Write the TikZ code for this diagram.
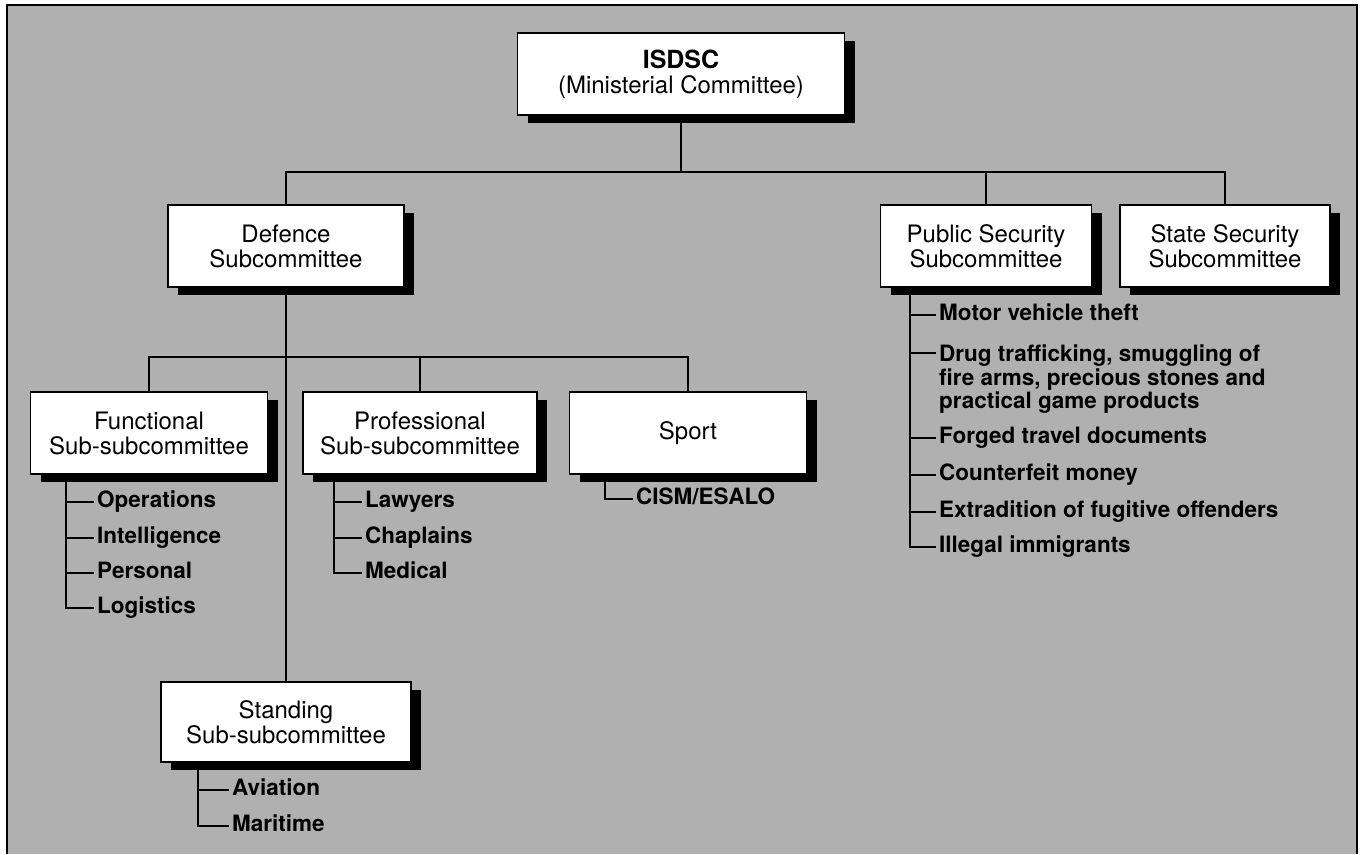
\documentclass[tikz,border=0pt]{standalone}
\usepackage{fontspec}
\setmainfont{TeX Gyre Heros}
\usetikzlibrary{shadows}
\definecolor{bggray}{gray}{0.69}
\tikzset{
  box/.style={draw=black, line width=1.8pt, fill=white, align=center, inner sep=0pt,
    font=\fontsize{24}{25}\selectfont,
    drop shadow={shadow xshift=10pt, shadow yshift=-8pt, fill=black, opacity=1}},
  itemtext/.style={anchor=west, inner sep=4pt, font=\fontsize{22.5}{23.5}\selectfont\bfseries},
  item/.style={itemtext, text height=16pt, text depth=5pt},
  link/.style={line width=2pt, line cap=rect},
}
\begin{document}
\begin{tikzpicture}[x=1pt,y=-1pt]
\useasboundingbox (0,0) rectangle (1364,854);
\fill[bggray] (7,5) rectangle (1357,854);
\draw[line width=1.6pt] (7,854) -- (7,5) -- (1357,5) -- (1357,854);

% main boxes
\node[box, minimum width=327pt, minimum height=82pt] (isdsc) at (681,74)
  {{\fontsize{25}{25}\selectfont\bfseries ISDSC}\\(Ministerial Committee)};
\node[box, minimum width=236pt, minimum height=82pt] (def) at (286,246)
  {Defence\\Subcommittee};
\node[box, minimum width=211pt, minimum height=82pt] (pub) at (986,246)
  {Public Security\\Subcommittee};
\node[box, minimum width=210pt, minimum height=82pt] (sta) at (1225,246)
  {State Security\\Subcommittee};
\node[box, minimum width=237pt, minimum height=82pt] (fun) at (149,433)
  {Functional\\Sub-subcommittee};
\node[box, minimum width=234pt, minimum height=82pt] (pro) at (420,433)
  {Professional\\Sub-subcommittee};
\node[box, minimum width=237pt, minimum height=82pt] (spo) at (688,433)
  {Sport};
\node[box, minimum width=250pt, minimum height=80pt] (sta2) at (286,722)
  {Standing\\Sub-subcommittee};

% top level connectors
\coordinate (bus1) at (681,172);
\draw[link] (isdsc.south) -- (bus1);
\draw[link] (def.north) |- (sta.north |- bus1) -- (sta.north);
\draw[link] (pub.north |- bus1) -- (pub.north);
\draw[link] (def.south) ++(0,-8pt) -- (sta2.north);

% defence sub-level
\coordinate (bus2) at (286,357);
\draw[link] (fun.north) |- (spo.north |- bus2) -- (spo.north);
\draw[link] (pro.north |- bus2) -- (pro.north);

% Functional list
\coordinate (f0) at (66,482);
\node[item] (fop) at (93,502) {Operations};
\node[item] (fin) at (93,538) {Intelligence};
\node[item] (fpe) at (93,573) {Personal};
\node[item] (flo) at (93,608) {Logistics};
\draw[link] (f0) |- (flo.west);
\foreach \n in {fop,fin,fpe} \draw[link] (\n.west -| f0) -- (\n.west);

% Professional list
\coordinate (p0) at (334,482);
\node[item] (pla) at (361,502) {Lawyers};
\node[item] (pch) at (361,538) {Chaplains};
\node[item] (pme) at (361,573) {Medical};
\draw[link] (p0) |- (pme.west);
\foreach \n in {pla,pch} \draw[link] (\n.west -| p0) -- (\n.west);

% Sport list
\coordinate (s0) at (605,482);
\node[item] (cism) at (632,499) {CISM/ESALO};
\draw[link] (s0) |- (cism.west);

% Public security list
\coordinate (u0) at (910,296);
\node[item] (umo) at (935,315) {Motor vehicle theft};
\node[itemtext, anchor=north west, align=left] (udr) at (935,341)
  {Drug trafficking, smuggling of\\fire arms, precious stones and\\practical game products};
\node[item] (ufo) at (935,438) {Forged travel documents};
\node[item] (uco) at (935,475) {Counterfeit money};
\node[item] (uex) at (935,512) {Extradition of fugitive offenders};
\node[item] (uil) at (935,547) {Illegal immigrants};
\draw[link] (u0) |- (uil.west);
\foreach \n in {umo,ufo,uco,uex} \draw[link] (\n.west -| u0) -- (\n.west);
\coordinate (udrt) at ([yshift=-12pt]udr.north west);
\draw[link] (udrt -| u0) -- (udrt);

% Standing list
\coordinate (t0) at (198,770);
\node[item] (tav) at (228,790) {Aviation};
\node[item] (tma) at (228,826) {Maritime};
\draw[link] (t0) |- (tma.west);
\draw[link] (tav.west -| t0) -- (tav.west);
\end{tikzpicture}
\end{document}
